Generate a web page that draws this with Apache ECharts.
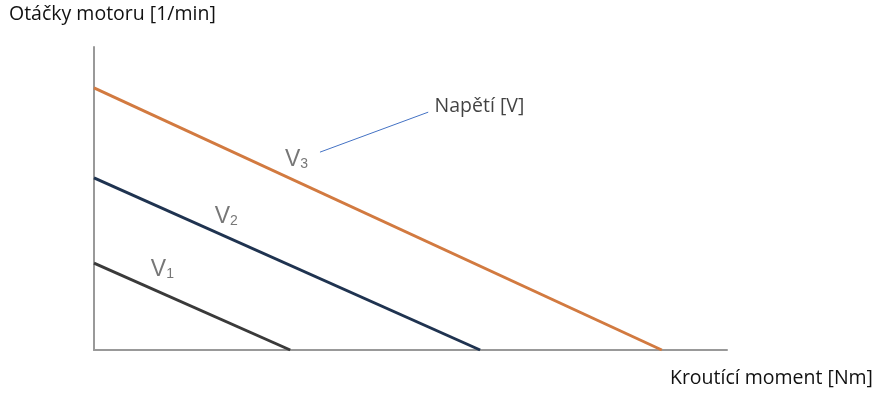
<!DOCTYPE html>
<html><head><meta charset="utf-8">
<script src="https://cdn.jsdelivr.net/npm/echarts@6/dist/echarts.min.js"></script>
<style>html,body{margin:0;padding:0;background:#fff}#c{width:878px;height:396px}</style>
</head><body><div id="c"></div>
<script>
// Torque (x) / speed (y) in arbitrary units (0..100)
const v1Line = [[0, 28.7], [31, 0]];
const v2Line = [[0, 56.8], [61, 0]];
const v3Line = [[0, 86.5], [89.7, 0]];
const curveNames = ['V1', 'V2', 'V3'];
const curveLabels = [
  {sub: '1', pos: [10.8, 26.4]},
  {sub: '2', pos: [20.9, 43.9]},
  {sub: '3', pos: [32.0, 62.7]}
];
const leaderLine = [[35.7, 65.3], [52.8, 78.5]];
const leaderText = {text: 'Napětí [V]', pos: [53.8, 80.5]};
const yAxisTitle = 'Otáčky motoru [1/min]';
const xAxisTitle = 'Kroutící moment [Nm]';

const chart = echarts.init(document.getElementById('c'));
const lineColors = ['#3a3a3a', '#1f3350', '#d27a40'];
const lines = [v1Line, v2Line, v3Line];
const series = lines.map((d, i) => ({
  name: curveNames[i], type: 'line', data: d, symbol: 'none',
  lineStyle: {color: lineColors[i], width: 3}, silent: true, z: 3
}));
series.push({
  type: 'scatter', symbolSize: 0, silent: true,
  data: curveLabels.map(l => ({value: l.pos, sub: l.sub})),
  label: {
    show: true, position: 'inside',
    formatter: p => '{v|V}{s|' + p.data.sub + '}',
    rich: {
      v: {fontFamily: 'Liberation Sans', fontSize: 23, color: '#555'},
      s: {fontFamily: 'Liberation Sans', fontSize: 14, color: '#555', padding: [9, 0, 0, 0]}
    }
  }
});
series.push({
  type: 'line', data: leaderLine, symbol: 'none', silent: true,
  lineStyle: {color: '#4472c4', width: 1}
});
series.push({
  type: 'scatter', symbolSize: 0, silent: true,
  data: [{value: leaderText.pos}],
  label: {show: true, position: 'right', distance: 0, formatter: leaderText.text,
    fontFamily: 'Open Sans', fontSize: 19.5, color: '#111'}
});

chart.setOption({
  animation: false,
  grid: {left: 94, right: 151, top: 47, bottom: 46},
  xAxis: {type: 'value', min: 0, max: 100,
    axisLine: {lineStyle: {color: '#999', width: 2}},
    axisTick: {show: false}, axisLabel: {show: false}, splitLine: {show: false}},
  yAxis: {type: 'value', min: 0, max: 100,
    axisLine: {show: true, lineStyle: {color: '#999', width: 2}},
    axisTick: {show: false}, axisLabel: {show: false}, splitLine: {show: false}},
  graphic: [
    {type: 'text', left: 9, top: 4, style: {text: yAxisTitle, font: '19.5px "Open Sans"', fill: '#111'}},
    {type: 'text', right: 5, top: 368, style: {text: xAxisTitle, font: '19.5px "Open Sans"', fill: '#111'}}
  ],
  series: series
});
</script></body></html>
